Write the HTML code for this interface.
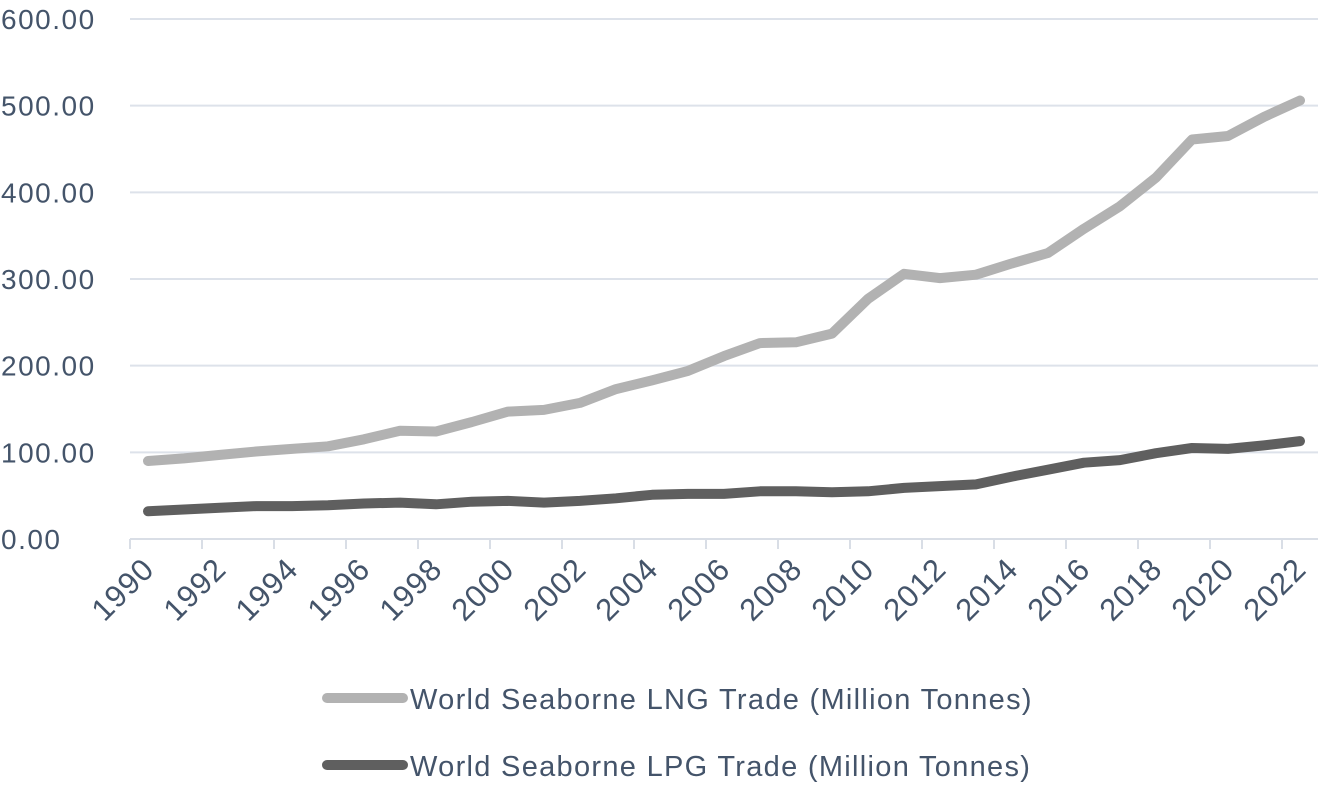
<!DOCTYPE html>
<html><head><meta charset="utf-8"><style>
html,body{margin:0;padding:0;background:#fff;}
svg{display:block;font-family:"Liberation Sans",sans-serif;}
</style></head><body>
<svg id="chart" width="1321" height="786" viewBox="0 0 1321 786">
<g id="grid"></g>
<g id="yticks"></g>
<g id="xaxis"></g>
<g id="series"></g>
<g>
<g>
<line x1="327" y1="698" x2="403" y2="698" stroke="#b2b2b2" stroke-width="10" stroke-linecap="round"/>
<text x="410" y="709" font-size="29" letter-spacing="1.3" fill="#44546a">World Seaborne LNG Trade (Million Tonnes)</text></g>
<g>
<line x1="327" y1="765" x2="403" y2="765" stroke="#5f5f5f" stroke-width="10" stroke-linecap="round"/>
<text x="410" y="776" font-size="29" letter-spacing="1.3" fill="#44546a">World Seaborne LPG Trade (Million Tonnes)</text></g>
</g>
</svg>
<script>
const years=[1990,1991,1992,1993,1994,1995,1996,1997,1998,1999,2000,2001,2002,2003,2004,2005,2006,2007,2008,2009,2010,2011,2012,2013,2014,2015,2016,2017,2018,2019,2020,2021,2022];
const lngValues=[90,93,97,101,104,107,115,125,124,135,147,149,157,173,183,194,211,226,227,237,277,306,301,305,318,330,358,384,417,461,465,487,506];
const lpgValues=[32,34,36,38,38,39,41,42,40,43,44,42,44,47,51,52,52,55,55,54,55,59,61,63,72,80,88,91,99,105,104,108,113];
const yTicks=[0,100,200,300,400,500,600];
const NS="http://www.w3.org/2000/svg";
const x0=130,cw=36,yBase=539,yTop=19,yMax=600;
const X=i=>x0+cw*(i+0.5);
const Y=v=>yBase-(v/yMax)*(yBase-yTop);
function mk(tag,attrs,parent){const e=document.createElementNS(NS,tag);for(const k in attrs)e.setAttribute(k,attrs[k]);parent.appendChild(e);return e;}
const grid=document.getElementById('grid'),yt=document.getElementById('yticks'),xa=document.getElementById('xaxis'),ser=document.getElementById('series');
yTicks.forEach(v=>{
 if(v>0){const g=mk('line',{x1:x0,x2:x0+cw*years.length,y1:Y(v),y2:Y(v),stroke:'#dde2ea','stroke-width':2},grid);
 
 }
 const t=mk('text',{x:1,y:Y(v)+10,'font-size':28,'letter-spacing':1.5,fill:'#44546a'},yt);
 t.textContent=v.toFixed(2);
 
 
});
const ax=mk('line',{x1:x0,x2:x0+cw*years.length,y1:yBase,y2:yBase,stroke:'#d9dee6','stroke-width':2},xa);


for(let i=0;i<=years.length;i+=2){
 const tk=mk('line',{x1:x0+cw*i,x2:x0+cw*i,y1:yBase,y2:yBase+10,stroke:'#d9dee6','stroke-width':2},xa);
 
 
}
years.forEach((yr,i)=>{
 if(i%2)return;
 const cx=X(i)+8,cy=yBase+32;
 const t=mk('text',{x:cx,y:cy,'font-size':31,'letter-spacing':1,fill:'#44546a','text-anchor':'end',transform:`rotate(-45 ${cx} ${cy})`},xa);
 t.textContent=yr;
 
 
});
function line(vals,color,name){
 const d=vals.map((v,i)=>(i?'L':'M')+X(i).toFixed(1)+' '+Y(v).toFixed(1)).join(' ');
 const p=mk('path',{d:d,fill:'none',stroke:color,'stroke-width':10,'stroke-linecap':'round','stroke-linejoin':'round'},ser);
 
 
}
line(lngValues,'#b2b2b2','lng-line');
line(lpgValues,'#5f5f5f','lpg-line');
</script>
</body></html>
